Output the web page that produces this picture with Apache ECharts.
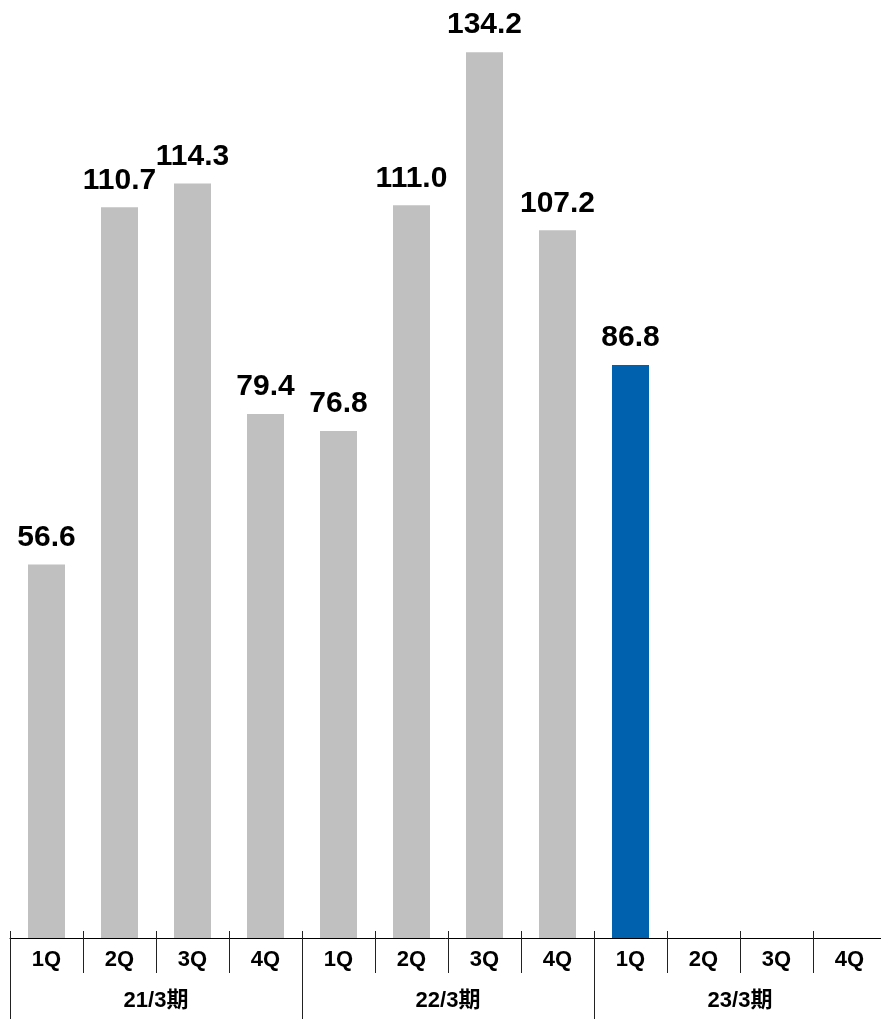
<!DOCTYPE html>
<html>
<head>
<meta charset="utf-8">
<style>
  html, body { margin: 0; padding: 0; background: #ffffff; }
  #chart { width: 881px; height: 1019px; }
</style>
<script src="https://cdn.jsdelivr.net/npm/echarts@6/dist/echarts.min.js"></script>
</head>
<body>
<div id="chart"></div>
<script>
// Quarterly figures, three fiscal years
const quarters = ['1Q', '2Q', '3Q', '4Q', '1Q', '2Q', '3Q', '4Q', '1Q', '2Q', '3Q', '4Q'];
const fiscalYears = ['21/3期', '22/3期', '23/3期'];
const values = [56.6, 110.7, 114.3, 79.4, 76.8, 111.0, 134.2, 107.2, 86.8, null, null, null];
const currentIndex = 8;

const GRAY = '#c0c0c0';
const BLUE = '#0062ae';
const FONT = '"Liberation Sans", Arial, "Noto Sans CJK JP", sans-serif';

const chart = echarts.init(document.getElementById('chart'), null, { renderer: 'canvas' });

const barData = values.map((v, i) => ({
  value: v,
  itemStyle: { color: i === currentIndex ? BLUE : GRAY }
}));

chart.setOption({
  animation: false,
  grid: {
    left: 10, top: 0, width: 876, bottom: 81,
    containLabel: false, outerBoundsMode: 'none'
  },
  xAxis: [
    {
      type: 'category',
      data: quarters,
      axisLine: { show: true, lineStyle: { color: '#000', width: 1 } },
      axisTick: { show: false },
      axisLabel: {
        margin: 11, fontSize: 22, fontWeight: 'bold', color: '#000', fontFamily: FONT, interval: 0
      }
    },
    {
      type: 'category',
      data: quarters,
      position: 'bottom',
      offset: -7,
      axisLine: { show: false },
      axisTick: { show: true, interval: 0, length: 42, lineStyle: { color: '#222', width: 1 } },
      axisLabel: { show: false }
    },
    {
      type: 'category',
      data: fiscalYears,
      position: 'bottom',
      offset: -7,
      axisLine: { show: false },
      axisTick: { show: true, interval: 0, length: 100, lineStyle: { color: '#222', width: 1 } },
      axisLabel: {
        margin: 59, fontSize: 22, fontWeight: 'bold', color: '#000', fontFamily: FONT, interval: 0
      }
    }
  ],
  yAxis: {
    type: 'value',
    min: 0,
    max: 142.1,
    show: false,
    splitLine: { show: false }
  },
  series: [{
    type: 'bar',
    xAxisIndex: 0,
    data: barData,
    barWidth: 37,
    label: {
      show: true,
      position: 'top',
      distance: 12,
      formatter: p => p.value == null ? '' : p.value.toFixed(1),
      fontSize: 30,
      fontWeight: 'bold',
      color: '#000',
      fontFamily: FONT
    }
  }]
});
</script>
</body>
</html>
